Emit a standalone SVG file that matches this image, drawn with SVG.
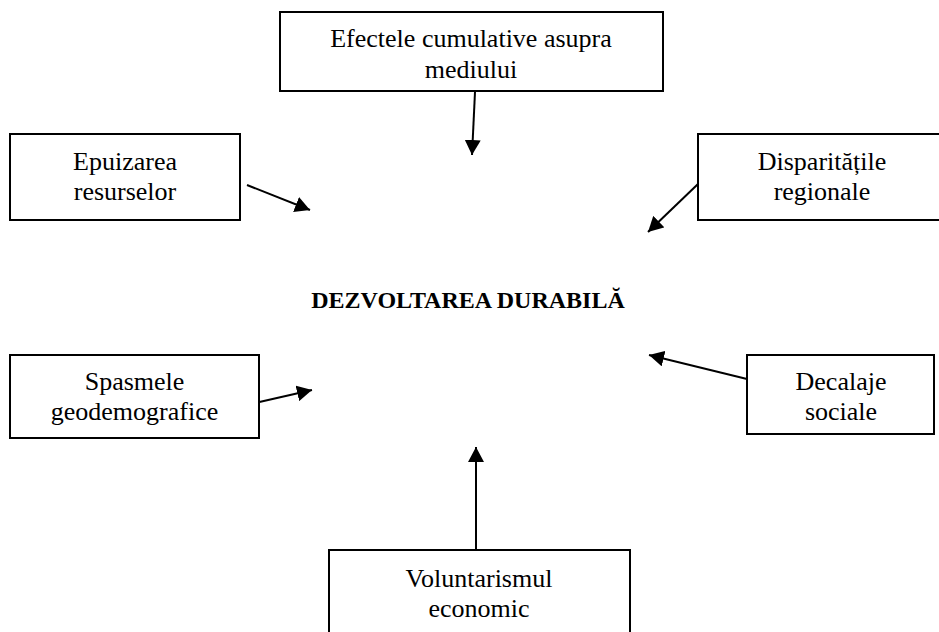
<svg xmlns="http://www.w3.org/2000/svg" width="939" height="632" viewBox="0 0 939 632">
<style>
.box{fill:#fff;stroke:#000;stroke-width:2}
.t{font-family:"Liberation Serif","Times New Roman",serif;font-size:26px;fill:#000;text-anchor:middle}
.b{font-family:"Liberation Serif","Times New Roman",serif;font-size:24px;font-weight:bold;fill:#000;text-anchor:middle}
.c{stroke:#000;stroke-width:2;fill:none;marker-end:url(#ah)}
</style>
<defs>
<marker id="ah" markerUnits="userSpaceOnUse" markerWidth="16" markerHeight="16" refX="15" refY="8" orient="auto">
<path d="M0,0 L15,8 L0,16 z" fill="#000"/>
</marker>
</defs>
<rect width="939" height="632" fill="#fff"/>
<g id="connectors">
<line class="c" x1="475" y1="92" x2="472" y2="155"/>
<line class="c" x1="247" y1="185" x2="310" y2="210"/>
<line class="c" x1="698" y1="184" x2="648" y2="232"/>
<line class="c" x1="255" y1="403" x2="312" y2="390"/>
<line class="c" x1="747" y1="379" x2="649" y2="355"/>
<line class="c" x1="476" y1="550" x2="476" y2="447"/>
</g>
<g id="n-efectele">
<rect class="box" x="280" y="12" width="383" height="79"/>
<text class="t" x="471" y="47">Efectele cumulative asupra</text>
<text class="t" x="471" y="78">mediului</text>
</g>
<g id="n-epuizarea">
<rect class="box" x="10" y="134" width="230" height="86"/>
<text class="t" x="125" y="170">Epuizarea</text>
<text class="t" x="125" y="200">resurselor</text>
</g>
<g id="n-disparitatile">
<rect class="box" x="698" y="134" width="250" height="86"/>
<text class="t" x="822" y="170">Disparitățile</text>
<text class="t" x="822" y="200">regionale</text>
</g>
<g id="n-center">
<text class="b" x="468" y="308">DEZVOLTAREA DURABILĂ</text>
</g>
<g id="n-spasmele">
<rect class="box" x="10" y="355" width="249" height="83"/>
<text class="t" x="134.5" y="390">Spasmele</text>
<text class="t" x="134.5" y="420">geodemografice</text>
</g>
<g id="n-decalaje">
<rect class="box" x="747" y="355" width="187" height="79"/>
<text class="t" x="841" y="390">Decalaje</text>
<text class="t" x="841" y="420">sociale</text>
</g>
<g id="n-voluntarismul">
<rect class="box" x="329" y="550" width="301" height="100"/>
<text class="t" x="479" y="587">Voluntarismul</text>
<text class="t" x="479" y="617">economic</text>
</g>
</svg>
